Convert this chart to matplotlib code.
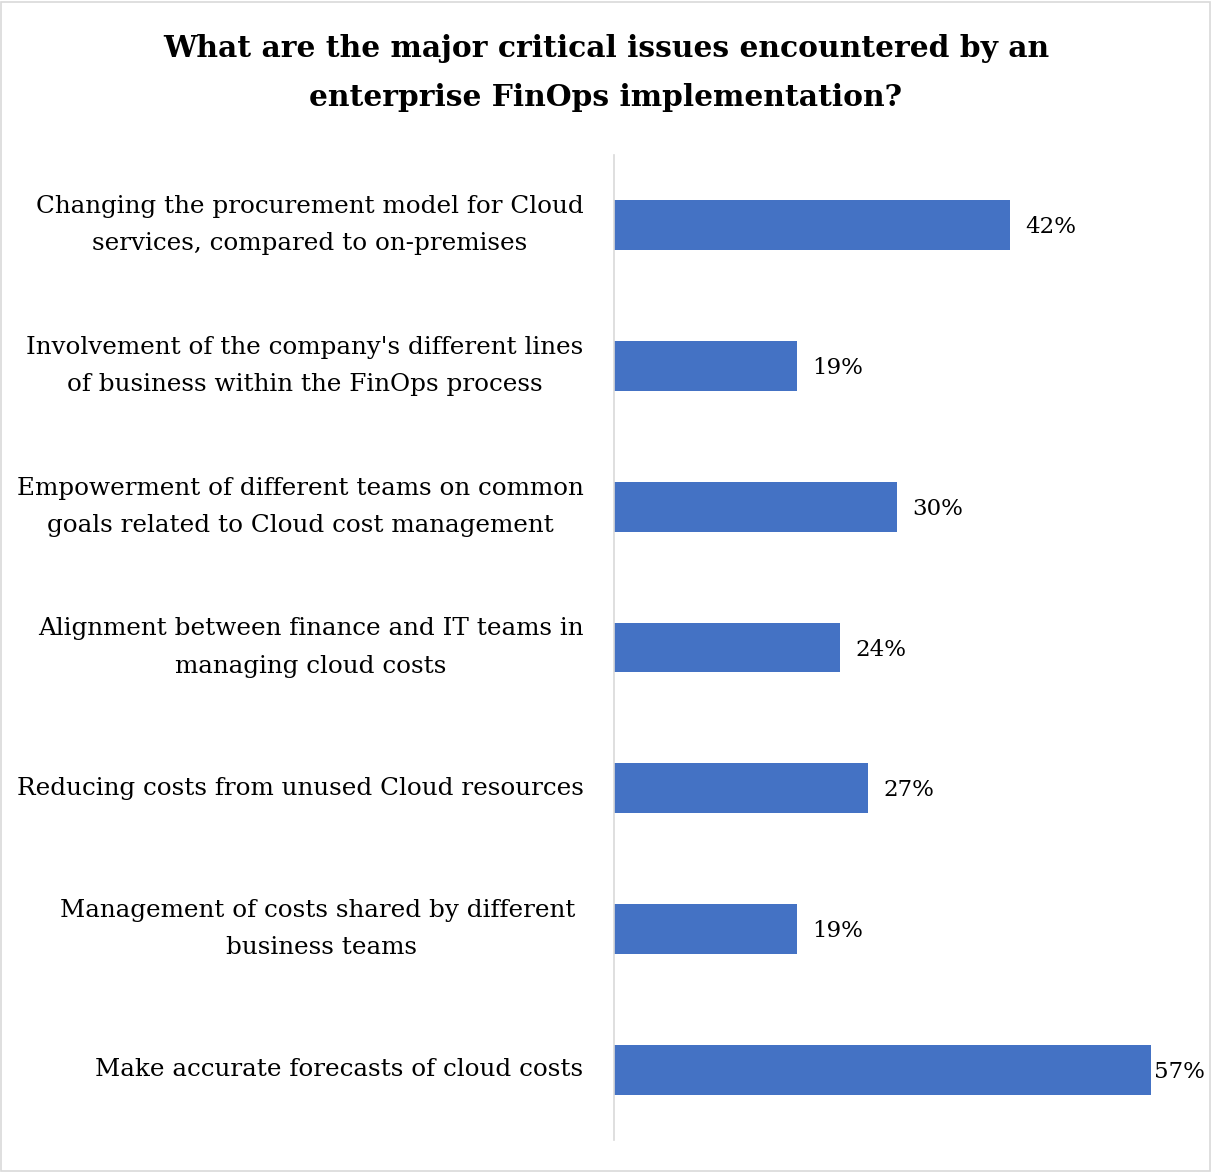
import matplotlib
matplotlib.use("Agg")
import matplotlib.pyplot as plt
from matplotlib.patches import Rectangle

categories = [
    "Changing the procurement model for Cloud\nservices, compared to on-premises",
    "Involvement of the company's different lines\nof business within the FinOps process",
    "Empowerment of different teams on common\ngoals related to Cloud cost management",
    "Alignment between finance and IT teams in\nmanaging cloud costs",
    "Reducing costs from unused Cloud resources",
    "Management of costs shared by different \nbusiness teams",
    "Make accurate forecasts of cloud costs",
]
values = [42, 19.4, 30, 24, 27, 19.4, 57]
value_labels = ["42%", "19%", "30%", "24%", "27%", "19%", "57%"]
title = "What are the major critical issues encountered by an\nenterprise FinOps implementation?"

plt.rcParams['font.family'] = ['DejaVu Serif']

W, H = 1212, 1172
fig = plt.figure(figsize=(W / 100, H / 100), dpi=100)
ax = fig.add_axes([614 / W, 1 - 1140 / H, (1179 - 614) / W, (1140 - 155) / H])

ypos = list(range(len(categories)))
ax.barh(ypos, values, height=0.355, color="#4472C4")
ax.set_ylim(len(categories) - 0.5, -0.5)
ax.set_xlim(0, 60)

fig.canvas.draw()
renderer = fig.canvas.get_renderer()
max_right = W - 8  # keep labels inside the frame
for y, v, lab in zip(ypos, values, value_labels):
    t = ax.annotate(lab, (v, y), xytext=(11, -1.5), textcoords="offset points",
                    va="center", ha="left", fontsize=16.5, color="#000000")
    bb = t.get_window_extent(renderer)
    if bb.x1 > max_right:
        shift_pts = (bb.x1 - max_right) * 72 / fig.dpi
        t.set_position((max(11 - shift_pts, 2), -1.5))

ax.set_yticks(ypos)
ax.set_yticklabels(categories, fontsize=17.7, multialignment="center", linespacing=1.78)
for tl in ax.get_yticklabels():
    tl.set_verticalalignment("center")
ax.tick_params(axis="y", length=0, pad=22)
ax.set_xticks([])
for s in ["top", "right", "bottom"]:
    ax.spines[s].set_visible(False)
ax.spines["left"].set_color("#D9D9D9")
ax.spines["left"].set_linewidth(1.2)

fig.text(0.5, 1 - 73 / H, title, ha="center", va="center", fontsize=21.4,
         fontweight="bold", linespacing=1.89)

fig.patches.append(Rectangle((1 / W, 1 / H), 1 - 3 / W, 1 - 3 / H, transform=fig.transFigure,
                             fill=False, edgecolor="#D9D9D9", linewidth=1.2))

fig.savefig("out.png", dpi=100)
